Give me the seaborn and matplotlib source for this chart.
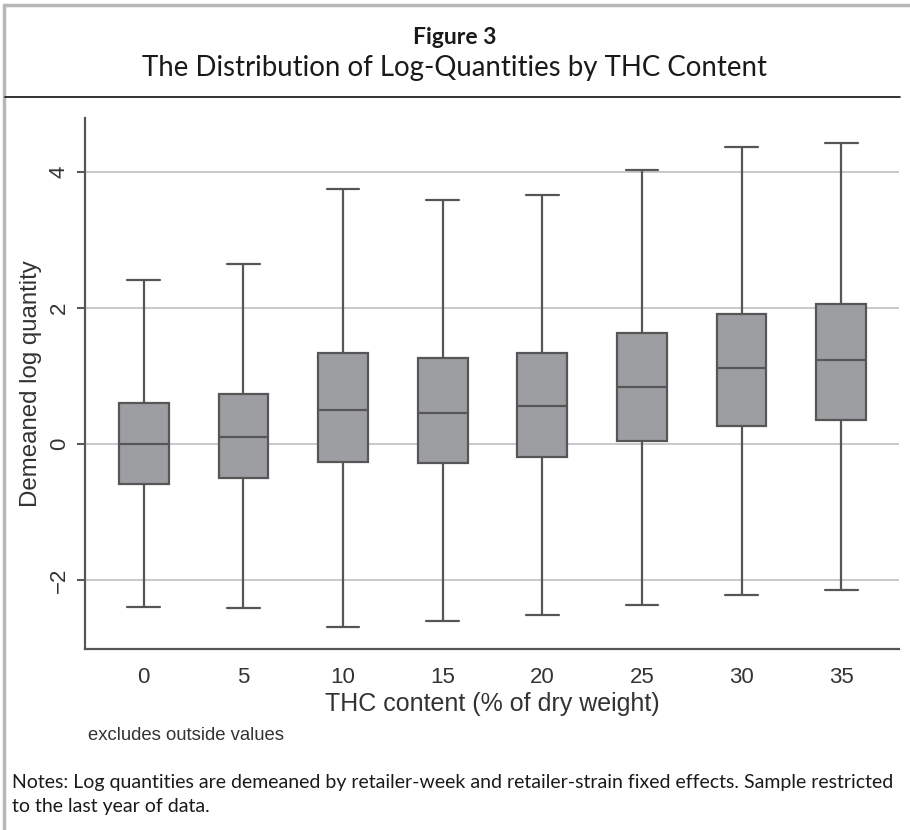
import matplotlib
matplotlib.use("Agg")
import matplotlib.pyplot as plt
import seaborn as sns
import pandas as pd
from matplotlib.lines import Line2D

# five-number summaries (whiskers = adjacent values)
thc = ["0", "5", "10", "15", "20", "25", "30", "35"]
lower = [-2.39, -2.41, -2.68, -2.60, -2.51, -2.36, -2.21, -2.14]
q1 = [-0.58, -0.50, -0.27, -0.28, -0.19, 0.04, 0.27, 0.36]
median = [0.00, 0.10, 0.50, 0.46, 0.56, 0.84, 1.12, 1.24]
q3 = [0.60, 0.74, 1.34, 1.26, 1.34, 1.63, 1.91, 2.06]
upper = [2.41, 2.64, 3.75, 3.59, 3.66, 4.02, 4.37, 4.43]

rows = []
for i, t in enumerate(thc):
    for v in (lower[i], q1[i], median[i], q3[i], upper[i]):
        rows.append({"thc": t, "logq": v})
df = pd.DataFrame(rows)

sns.set_theme(style="white")
plt.rcParams["font.family"] = ["Liberation Sans", "DejaVu Sans"]

W, H = 910, 830
fig = plt.figure(figsize=(W / 100, H / 100), dpi=100)
ax = fig.add_axes([85 / W, 1 - 649 / H, (899 - 85) / W, (649 - 118) / H])

line_col = "#565656"
sns.boxplot(data=df, x="thc", y="logq", order=thc, whis=(0, 100), width=0.5,
            color="#9d9ea2", saturation=1, linecolor=line_col, linewidth=1.6,
            showfliers=False, capwidths=0.33, ax=ax)

ax.set_xlim(-0.59, 7.58)
ax.set_ylim(-3.01, 4.79)
ax.set_yticks([-2, 0, 2, 4])
ax.yaxis.grid(True, color="#c9c9cc", linewidth=1.4)
ax.xaxis.grid(False)
ax.set_axisbelow(True)

for side in ["top", "right"]:
    ax.spines[side].set_visible(False)
for side in ["left", "bottom"]:
    ax.spines[side].set_color(line_col)
    ax.spines[side].set_linewidth(1.6)

ax.tick_params(axis="y", which="major", left=True, length=6, width=1.4,
               color=line_col, labelsize=16, labelcolor="#333333", pad=5,
               labelrotation=90)
ax.tick_params(axis="x", length=0, labelsize=16, labelcolor="#333333", pad=13)
for lbl in ax.get_yticklabels():
    lbl.set_va("center")

ax.set_xlabel("THC content (% of dry weight)", fontsize=18, color="#333333",
              labelpad=3)
ax.set_ylabel("Demeaned log quantity", fontsize=17.3, color="#333333")
ax.yaxis.set_label_coords(-0.053, 0.5)

# page furniture
fig.add_artist(Line2D([4 / W, 4 / W], [0, 1 - 5 / H], color="#b8b8b8", lw=2.5))
fig.add_artist(Line2D([4 / W, 1], [1 - 5 / H, 1 - 5 / H], color="#b8b8b8", lw=2.5))
fig.add_artist(Line2D([5 / W, 900 / W], [1 - 97 / H, 1 - 97 / H], color="#111111", lw=1.2))

fig.text(0.5, 1 - 37 / H, "Figure 3", ha="center", va="center", fontsize=16.5,
         fontweight="bold", family=["Lato", "DejaVu Sans"], color="#1a1a1a")
fig.text(0.5, 1 - 68 / H, "The Distribution of Log-Quantities by THC Content",
         ha="center", va="center", fontsize=19.9, family=["Lato", "DejaVu Sans"],
         color="#1a1a1a")
fig.text(88 / W, 1 - 735 / H, "excludes outside values", ha="left", va="center",
         fontsize=13.3, color="#333333")
fig.text(12 / W, 1 - 782 / H,
         "Notes: Log quantities are demeaned by retailer-week and retailer-strain "
         "fixed effects. Sample restricted",
         ha="left", va="center", fontsize=14.05, family=["Lato", "DejaVu Sans"],
         color="#1a1a1a")
fig.text(12 / W, 1 - 806 / H, "to the last year of data.", ha="left",
         va="center", fontsize=14.05, family=["Lato", "DejaVu Sans"], color="#1a1a1a")

fig.savefig("out.png", dpi=100)
